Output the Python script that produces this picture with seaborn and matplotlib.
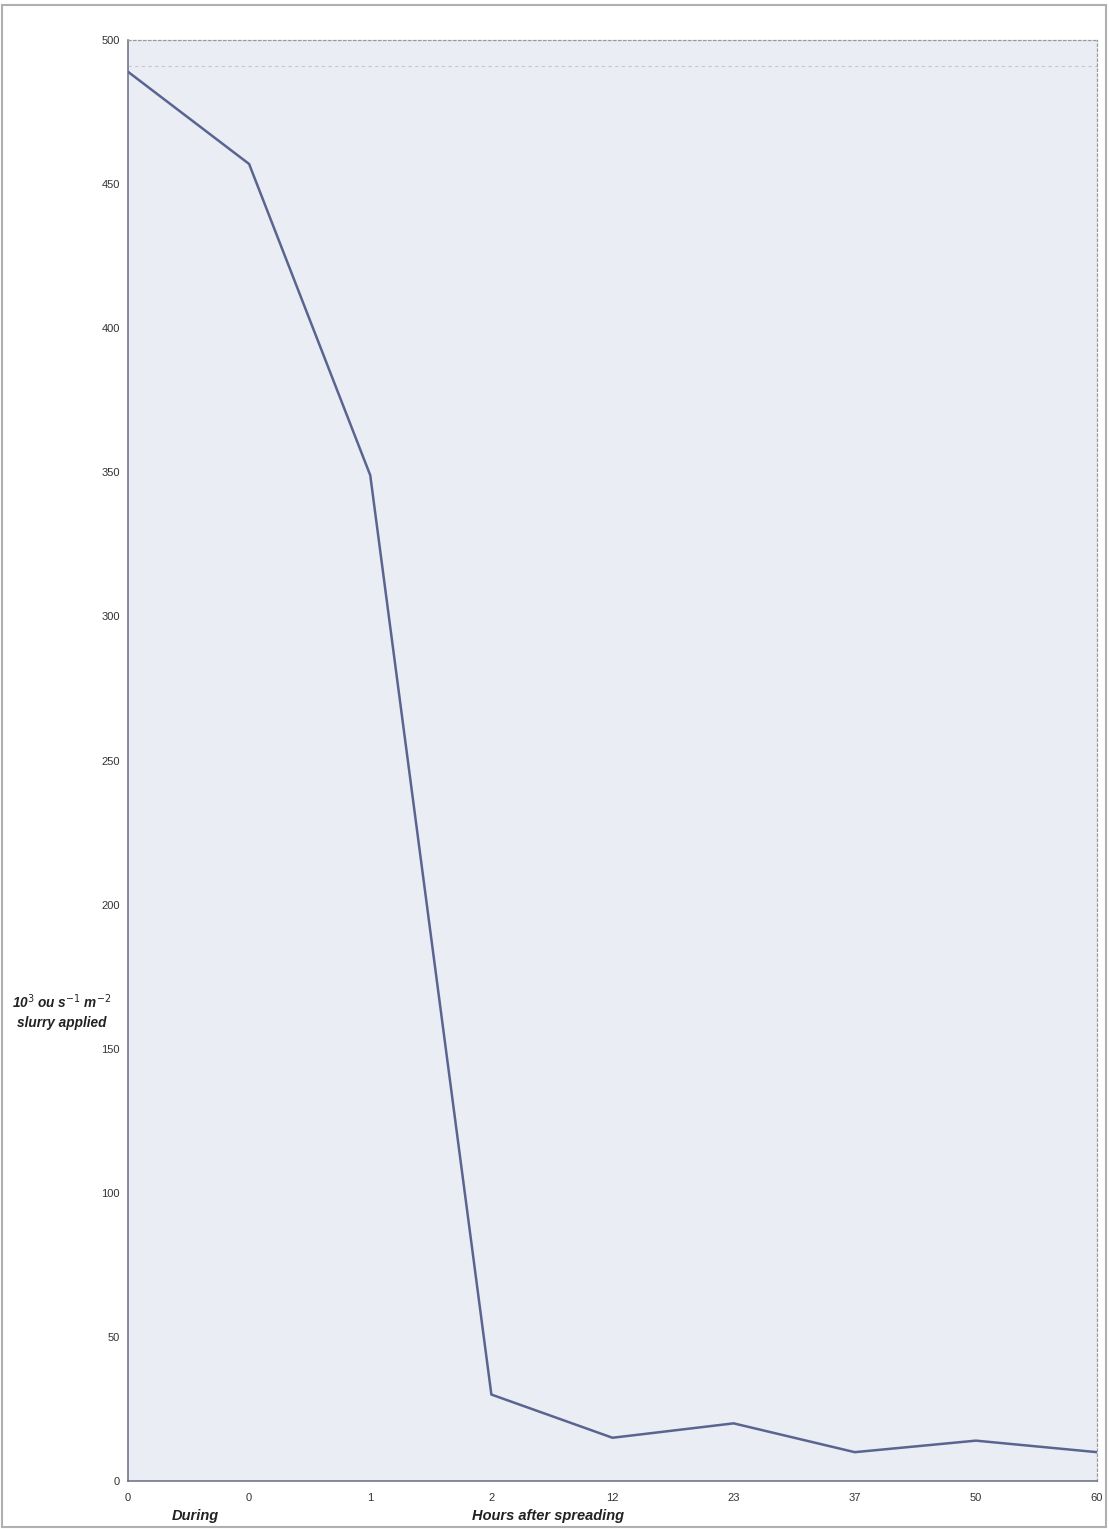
import matplotlib
matplotlib.use("Agg")
import matplotlib.pyplot as plt
import seaborn as sns
import numpy as np
import pandas as pd

# Odour emission after slurry spreading
tick_labels = ["0", "0", "1", "2", "12", "23", "37", "50", "60"]
emission = [489, 457, 349, 30, 15, 20, 10, 14, 10]
y_ticks = [0, 50, 100, 150, 200, 250, 300, 350, 400, 450, 500]

sns.set_theme(style="white")
plt.rcParams["font.family"] = ["Liberation Sans", "DejaVu Sans"]

df = pd.DataFrame({"pos": np.arange(len(emission)), "emission": emission})

fig = plt.figure(figsize=(11.09, 15.29), dpi=100)
fig.patch.set_facecolor("white")
ax = fig.add_axes([0.1154, 0.0314, 0.8738, 0.9424])
ax.set_facecolor("#eaedf4")

sns.lineplot(data=df, x="pos", y="emission", ax=ax, color="#5a6491",
             linewidth=1.8, legend=False)

ax.set_xlim(0, len(emission) - 1)
ax.set_ylim(0, 500)
ax.set_xticks(df["pos"])
ax.set_xticklabels(tick_labels)
ax.set_yticks(y_ticks)
ax.tick_params(axis="both", labelsize=8, colors="#333333", length=3,
               width=0.8, direction="out", pad=3)
ax.tick_params(axis="x", pad=6)
ax.set_xlabel("")
ax.set_ylabel("")

for side in ["top", "right"]:
    ax.spines[side].set_linestyle((0, (2, 2)))
    ax.spines[side].set_color("#9a9a9a")
    ax.spines[side].set_linewidth(0.9)
for side in ["left", "bottom"]:
    ax.spines[side].set_color("#666b80")
    ax.spines[side].set_linewidth(1.1)

# faint dashed line just under the top edge
ax.axhline(491, color="#c4c8d2", linestyle=(0, (3, 3)), linewidth=0.8)

fig.text(62 / 1109, 1 - 1011 / 1529,
         "10$^{3}$ ou s$^{-1}$ m$^{-2}$\nslurry applied",
         ha="center", va="center", fontsize=9.8, fontweight="bold",
         fontstyle="italic", color="#222222", linespacing=1.45)
fig.text(195 / 1109, 1 - 1516 / 1529, "During", ha="center", va="center",
         fontsize=10.5, fontweight="bold", fontstyle="italic", color="#222222")
fig.text(548 / 1109, 1 - 1516 / 1529, "Hours after spreading", ha="center",
         va="center", fontsize=10.5, fontweight="bold", fontstyle="italic",
         color="#222222")

# thin grey frame round the whole figure
frame = plt.Rectangle((0.002, 0.001), 0.995, 0.996, transform=fig.transFigure,
                      fill=False, edgecolor="#b0b0b0", linewidth=1.5)
fig.patches.append(frame)

fig.savefig("out.png", dpi=100, facecolor="white")
